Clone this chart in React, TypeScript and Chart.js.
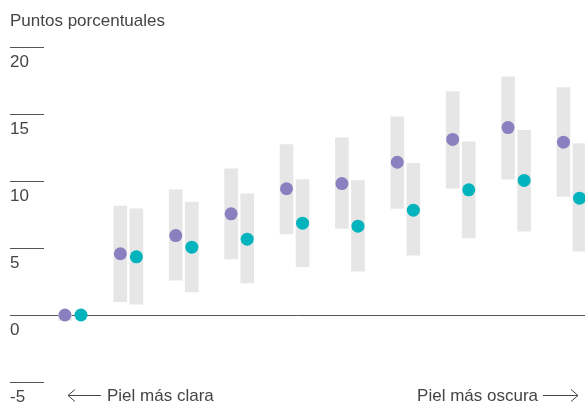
import React, { useEffect, useRef } from "react";
import { Chart, registerables } from "chart.js";

Chart.register(...registerables);

// Skin-tone groups, lightest (0) to darkest (9)
const categories = [0, 1, 2, 3, 4, 5, 6, 7, 8, 9];

// Point estimates (percentage points)
const purpleValues = [0, 4.57, 5.93, 7.55, 9.42, 9.81, 11.4, 13.1, 13.99, 12.9];
const tealValues = [0, 4.34, 5.06, 5.66, 6.85, 6.63, 7.82, 9.34, 10.04, 8.72];

// Confidence intervals [low, high]
const purpleLow = [-0.4, 1.0, 2.6, 4.19, 6.06, 6.46, 7.95, 9.46, 10.13, 8.84];
const purpleHigh = [0, 8.12, 9.34, 10.91, 12.72, 13.22, 14.79, 16.68, 17.78, 16.98];
const tealLow = [null, 0.81, 1.73, 2.4, 3.6, 3.27, 4.46, 5.76, 6.25, 4.76];
const tealHigh = [null, 7.92, 8.42, 9.04, 10.11, 10.04, 11.31, 12.93, 13.79, 12.8];

const yTicks = [-5, 0, 5, 10, 15, 20];
const yTickLabels = ["-5", "0", "5", "10", "15", "20"];

const titleText = "Puntos porcentuales";
const leftNote = "Piel más clara";
const rightNote = "Piel más oscura";

const PURPLE = "#8a80c0";
const TEAL = "#00b3bc";
const BAR_GREY = "#e6e6e6";
const INK = "#454545";
const RULE = "#555555";
const FONT = "17px 'Liberation Sans', Arial, sans-serif";

// horizontal offset of each series within its group (in category units)
const SHIFT = 0.145;

const decorations = {
  id: "decorations",
  beforeDatasetsDraw(chart: any) {
    const { ctx, scales, chartArea } = chart;
    const y = scales.y;
    ctx.save();
    ctx.strokeStyle = RULE;
    ctx.lineWidth = 1;
    ctx.fillStyle = INK;
    ctx.font = FONT;
    ctx.textBaseline = "alphabetic";
    ctx.textAlign = "left";
    yTicks.forEach((v, i) => {
      const py = Math.round(y.getPixelForValue(v)) + 0.5;
      const x0 = chartArea.left;
      const x1 = v === 0 ? chartArea.right : chartArea.left + 34;
      ctx.beginPath();
      ctx.moveTo(x0, py);
      ctx.lineTo(x1, py);
      ctx.stroke();
      ctx.fillText(yTickLabels[i], x0, py + 19.5);
    });
    ctx.restore();
  },
  afterDraw(chart: any) {
    const { ctx, chartArea } = chart;
    ctx.save();
    ctx.fillStyle = INK;
    ctx.font = FONT;
    ctx.textBaseline = "alphabetic";
    ctx.textAlign = "left";
    ctx.fillText(titleText, chartArea.left, 26);

    const baseY = 400.5;
    const arrowY = 395.5;
    ctx.fillText(leftNote, 107, baseY);
    ctx.textAlign = "right";
    ctx.fillText(rightNote, 538, baseY);

    ctx.strokeStyle = INK;
    ctx.lineWidth = 1;
    // left arrow
    ctx.beginPath();
    ctx.moveTo(101, arrowY);
    ctx.lineTo(68, arrowY);
    ctx.moveTo(75, arrowY - 6);
    ctx.lineTo(68, arrowY);
    ctx.lineTo(75, arrowY + 6);
    ctx.stroke();
    // right arrow
    ctx.beginPath();
    ctx.moveTo(543, arrowY);
    ctx.lineTo(578, arrowY);
    ctx.moveTo(571, arrowY - 6);
    ctx.lineTo(578, arrowY);
    ctx.lineTo(571, arrowY + 6);
    ctx.stroke();
    ctx.restore();
  },
};

export default function App() {
  const canvasRef = useRef<HTMLCanvasElement>(null);

  useEffect(() => {
    document.body.style.margin = "0";
    const canvas = canvasRef.current;
    if (!canvas) return;

    const purpleBars = categories.map((c, i) => ({ x: c - SHIFT, y: [purpleLow[i], purpleHigh[i]] }));
    const tealBars = categories
      .map((c, i) => (tealLow[i] === null ? null : { x: c + SHIFT, y: [tealLow[i], tealHigh[i]] }))
      .filter(Boolean);
    const purplePts = categories.map((c, i) => ({ x: c - SHIFT, y: purpleValues[i] }));
    const tealPts = categories.map((c, i) => ({ x: c + SHIFT, y: tealValues[i] }));

    const chart = new Chart(canvas, {
      type: "bar",
      data: {
        datasets: [
          {
            type: "bar",
            data: purpleBars as any,
            backgroundColor: BAR_GREY,
            barThickness: 13,
            grouped: false,
            order: 3,
          },
          {
            type: "bar",
            data: tealBars as any,
            backgroundColor: BAR_GREY,
            barThickness: 13,
            grouped: false,
            order: 3,
          },
          {
            type: "scatter",
            data: purplePts,
            backgroundColor: PURPLE,
            borderWidth: 0,
            pointRadius: 6.5,
            order: 1,
          },
          {
            type: "scatter",
            data: tealPts,
            backgroundColor: TEAL,
            borderWidth: 0,
            pointRadius: 6.5,
            order: 1,
          },
        ],
      },
      options: {
        animation: false,
        responsive: false,
        maintainAspectRatio: false,
        layout: { autoPadding: false, padding: { left: 10, right: 0, top: 47, bottom: 21 } },
        plugins: { legend: { display: false }, tooltip: { enabled: false } },
        scales: {
          x: { type: "linear", min: -1.137, max: 9.244, offset: false, display: false },
          y: { type: "linear", min: -5, max: 20, display: false },
        },
      },
      plugins: [decorations],
    });

    return () => chart.destroy();
  }, []);

  return (
    <div style={{ width: 585, height: 403, background: "#fff" }}>
      <canvas ref={canvasRef} width={585} height={403} style={{ display: "block" }} />
    </div>
  );
}
